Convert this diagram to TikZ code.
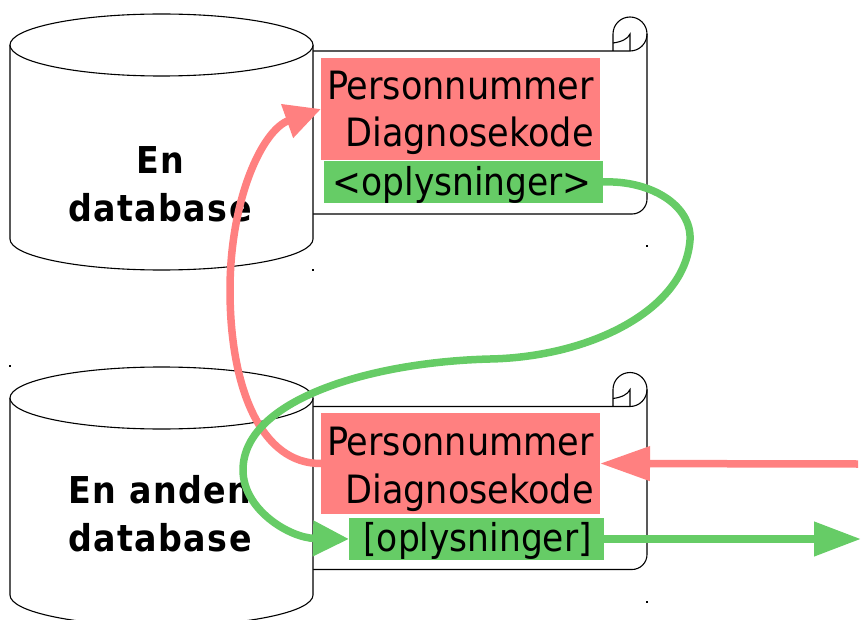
\documentclass[tikz,border=0pt]{standalone}
\usepackage{fontspec}
\setmainfont{DejaVu Sans Condensed}
\newfontfamily\dbfont{DejaVu Sans Condensed}[BoldFont={DejaVu Sans Condensed Bold},BoldFeatures={LetterSpace=4}]
\usetikzlibrary{arrows.meta}
\definecolor{pinkc}{HTML}{FF8080}
\definecolor{greenc}{HTML}{66CC66}
\tikzset{
  outline/.style={draw=black,line width=1.1pt},
  fieldbox/.style={inner sep=0pt,outer sep=0pt,anchor=north west},
  pinkbox/.style={fieldbox,fill=pinkc},
  greenbox/.style={fieldbox,fill=greenc},
  fieldtext/.style={inner sep=0pt,font=\fontsize{39}{39}\selectfont,anchor=base east},
  slimtext/.style={fieldtext,font=\fontsize{38.3}{39}\selectfont},
  dbtext/.style={inner sep=0pt,align=center,font=\dbfont\bfseries\fontsize{37}{48}\selectfont},
  pinkarrow/.style={draw=pinkc,line width=7.5pt,-{Triangle[length=36pt,width=34pt]}},
  greenarrow/.style={draw=greenc,line width=7.5pt,-{Triangle[length=36pt,width=34pt]}},
  straightpink/.style={draw=pinkc,line width=7.5pt,-{Triangle[length=50pt,width=33pt]}},
  straightgreen/.style={draw=greenc,line width=7.5pt,-{Triangle[length=47pt,width=33pt]}},
  speck/.style={fill=black,inner sep=0pt,minimum size=1.6pt,shape=rectangle}
}
\newcommand{\scrollshape}[1]{%
  \begin{scope}[yshift=#1]
    \draw[outline] (313,51) -- (630,51) arc[start angle=90,end angle=0,radius=17] arc[start angle=0,end angle=-180,radius=17] -- (613,51);
    \draw[outline] (647,34) -- (647,199) arc[start angle=0,end angle=90,radius=15] -- (313,214);
    \draw[outline] (630,51) -- (630,34) .. controls (628,39) and (621,42) .. (613,43);
  \end{scope}}
\newcommand{\cylshape}[2]{%
  \draw[outline,fill=white] (10,#1) -- (10,#2) arc[start angle=180,end angle=0,x radius=151.5,y radius=31] -- (313,#1);
  \draw[outline,fill=white] (161.5,#1) ellipse[x radius=151.5,y radius=31];}
\begin{document}
\begin{tikzpicture}[x=1pt,y=-1pt]
\useasboundingbox (0,0) rectangle (861,620);
\begin{scope}
\clip (0,0) rectangle (861,620);
\scrollshape{0pt}
\scrollshape{-355.5pt}
\cylshape{45}{239}
\cylshape{398}{595}
\node[speck] (s1) at (313,270) {};
\node[speck] (s2) at (647,246) {};
\node[speck] (s3) at (10,366) {};
\node[speck] (s4) at (647,602) {};

\node[pinkbox,minimum width=279pt,minimum height=102pt] (pinkA) at (321,58) {};
\node[greenbox,minimum width=279pt,minimum height=42pt] (greenA) at (324,161) {};
\node[pinkbox,minimum width=279pt,minimum height=101pt] (pinkB) at (321,413) {};
\node[greenbox,minimum width=255pt,minimum height=42pt] (greenB) at (349,518) {};

\node[fieldtext] (t1) at (594,100) {Personnummer};
\node[fieldtext] (t2) at (594,147) {Diagnosekode};
\node[slimtext] (t3) at (592,196) {<oplysninger>};
\node[fieldtext] (t4) at (594,455) {Personnummer};
\node[fieldtext] (t5) at (594,503) {Diagnosekode};
\node[slimtext] (t6) at (592,551) {[oplysninger]};

\node[dbtext] (db1) at (160,184) {En\\database};
\node[dbtext] (db2) at (160,514) {En anden\\database};

\coordinate (pinkin) at (858,464);
\coordinate (greenout) at (861,539);

\draw[pinkarrow] (pinkB.west) .. controls (262,464) and (230,390) .. (230,290)
   .. controls (230,200) and (262,130) .. (pinkA.west);
\draw[greenarrow] (greenA.east) .. controls (650,180) and (692,205) .. (690,240)
   .. controls (685,310) and (590,357) .. (490,359)
   .. controls (370,362) and (243,400) .. (243,470)
   .. controls (243,510) and (290,538) .. (greenB.west);
\draw[straightpink] (pinkin) -- (pinkB.east);
\draw[straightgreen] (greenB.east) -- (greenout);
\end{scope}
\end{tikzpicture}
\end{document}
